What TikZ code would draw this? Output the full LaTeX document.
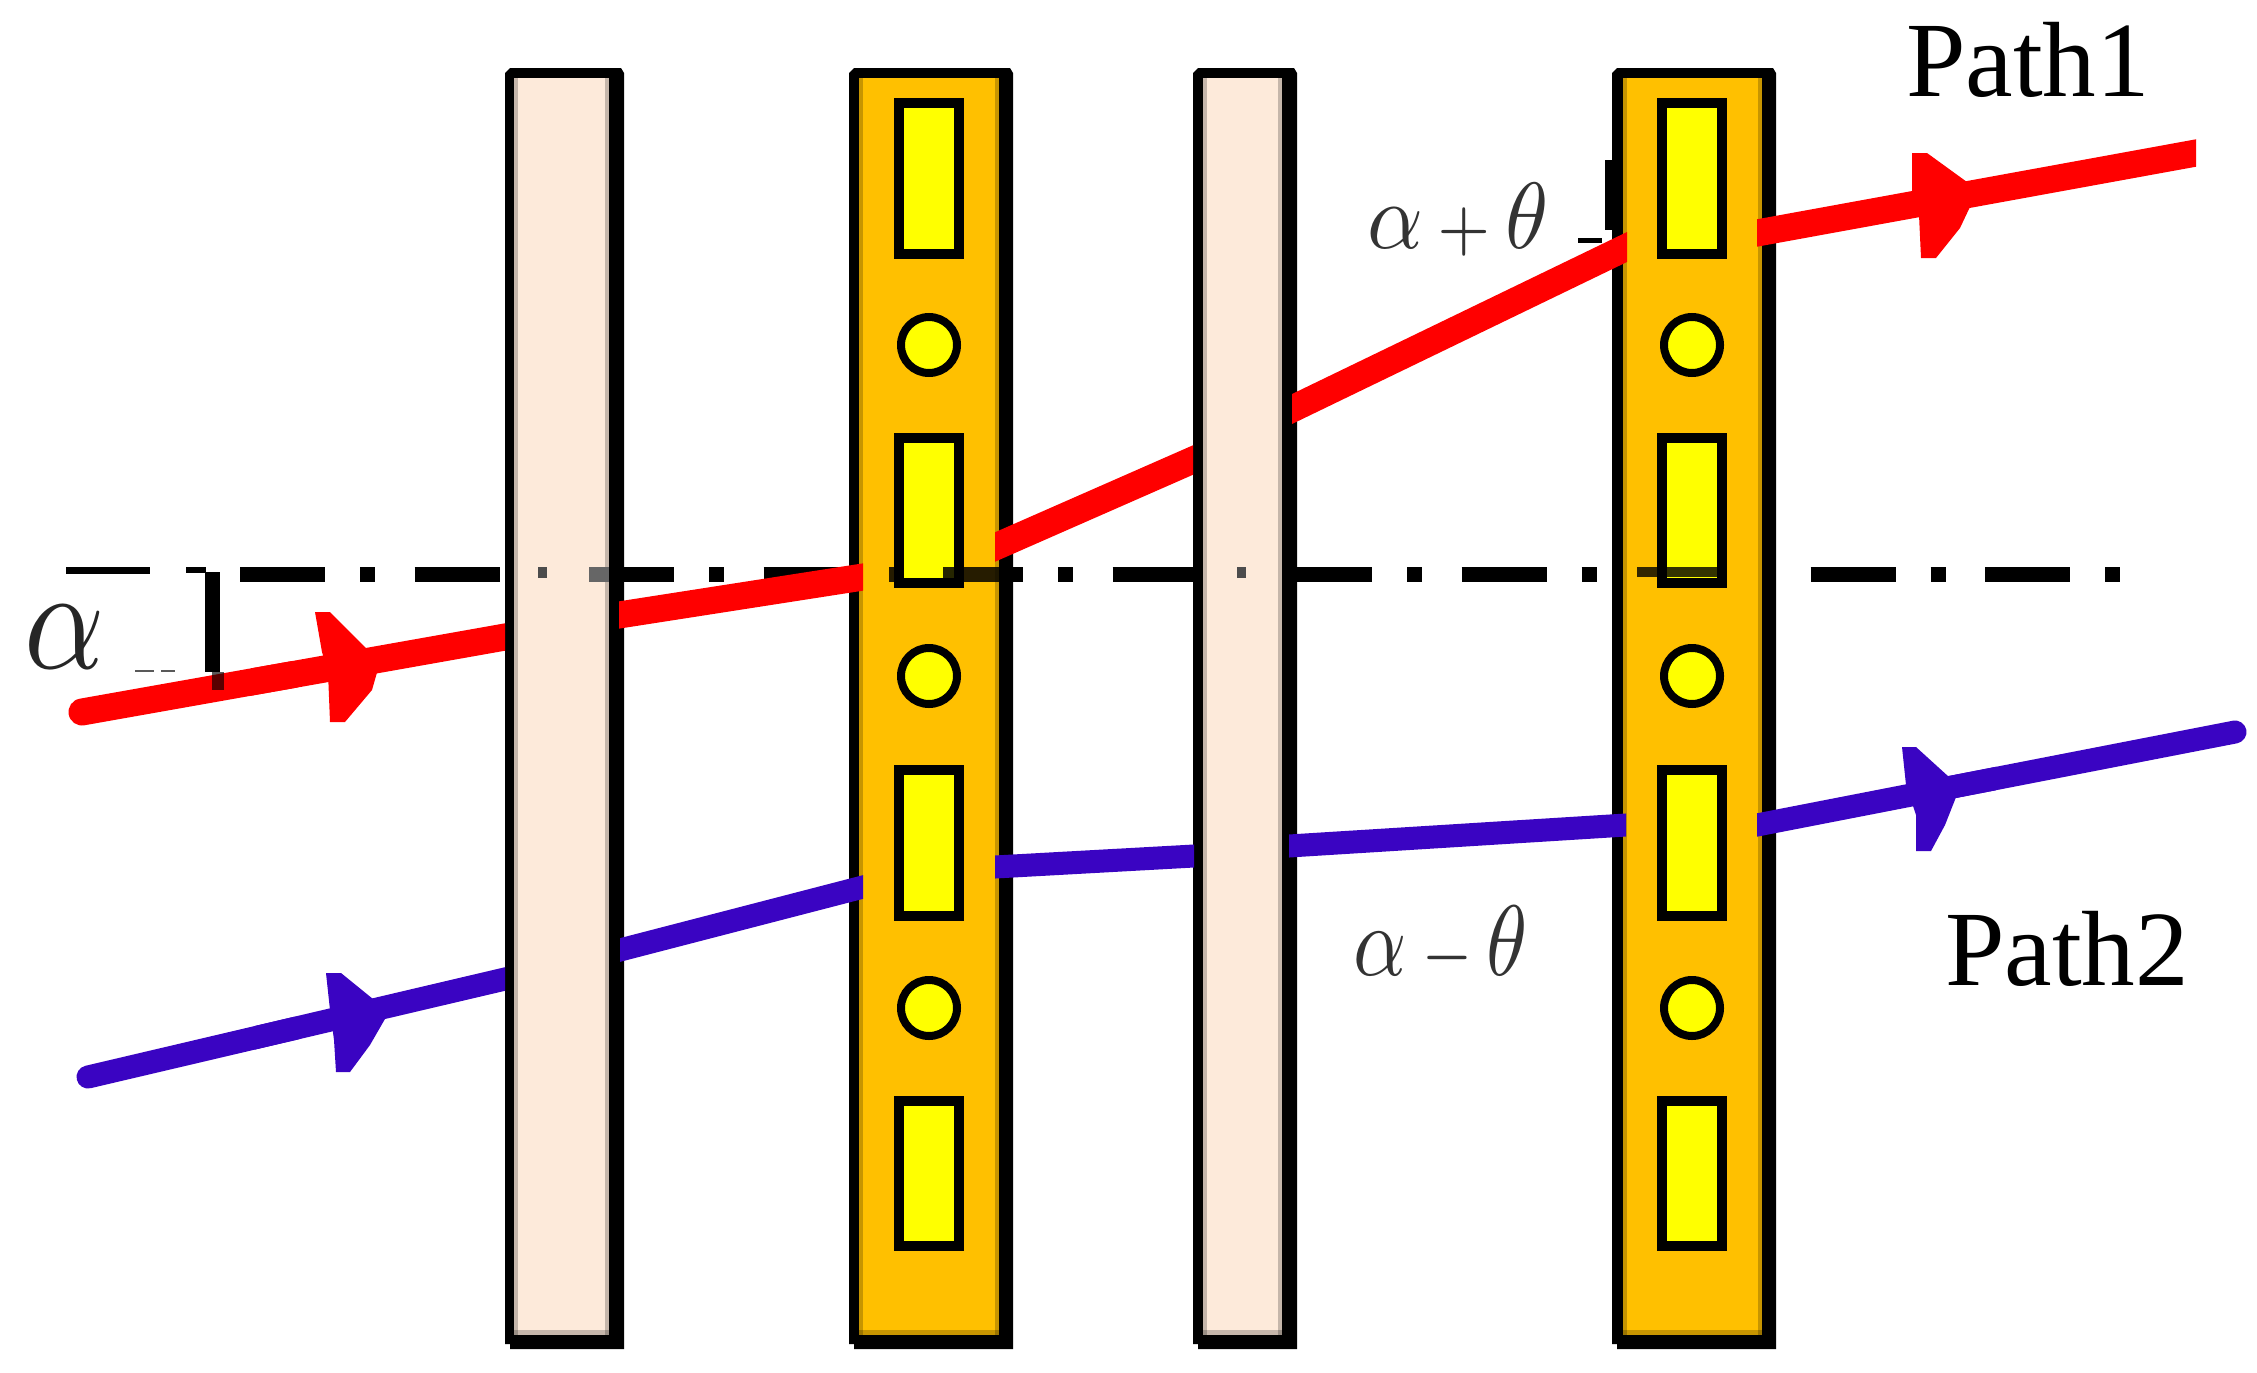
\documentclass[tikz,border=0pt]{standalone}
\usepackage{fontspec}
\usetikzlibrary{calc}
\setmainfont{Liberation Serif}
\definecolor{platepeach}{HTML}{FDEADA}
\definecolor{plategold}{HTML}{FFC000}
\definecolor{rayred}{HTML}{FF0000}
\definecolor{rayblue}{HTML}{3A04C2}
\definecolor{mathgrey}{HTML}{333333}
\definecolor{cellyellow}{HTML}{FFFF00}
\tikzset{
  plateouter/.style={fill=black},
  cellbox/.style={draw=black,line width=10pt,fill=cellyellow,miter limit=10},
  cellround/.style={draw=black,line width=8pt,fill=cellyellow},
  axisline/.style={black,line width=15pt,dash pattern=on 85pt off 35pt on 15pt off 39.5pt},
  overlaydash/.style={black,opacity=.85,line width=15pt},
  redray/.style={rayred,line width=27pt},
  blueray/.style={rayblue,line width=23pt},
  headred/.style={fill=rayred},
  headblue/.style={fill=rayblue},
  edgeshade/.style={fill=black,opacity=.22},
  pathlabel/.style={inner sep=0pt,anchor=base,font=\fontsize{107}{107}\selectfont},
  mathlabel/.style={inner sep=0pt,anchor=base,text=mathgrey},
}
\newcommand{\plateshape}[5]{%
  \path[plateouter] (#1+5,68) -- (#4-3,68) -- (#4,73) -- (#4,1349) -- (#1+5,1349) -- (#1+5,1344) -- (#1,1344) -- (#1,73) -- cycle;
  \path[fill=#5] (#2,78) rectangle (#3,1335);
  \path[edgeshade] (#2,78) rectangle (#2+4,1335);
  \path[edgeshade] (#3-4,78) rectangle (#3,1335);
  \path[edgeshade] (#2,1330) rectangle (#3,1335);
}
\newcommand{\platecells}[1]{%
  \draw[cellbox] (#1-30,103) rectangle (#1+30,254);
  \draw[cellround] (#1,345) circle (28);
  \draw[cellbox] (#1-30,438) rectangle (#1+30,583);
  \draw[cellround] (#1,676) circle (28);
  \draw[cellbox] (#1-30,770) rectangle (#1+30,916);
  \draw[cellround] (#1,1008) circle (28);
  \draw[cellbox] (#1-30,1101) rectangle (#1+30,1246);
}
% a ray segment whose two ends are cut vertically: #1 style, #2 and #3 named end points
\newcommand{\rayseg}[3]{%
  \begin{scope}
    \clip (#2 |- pagetop) rectangle (#3 |- pagebot);
    \draw[#1,line cap=rect] (#2) -- (#3);
  \end{scope}
}
\begin{document}
\begin{tikzpicture}[x=1pt,y=-1pt]
\useasboundingbox (0,0) rectangle (2257,1373);
\coordinate (pagetop) at (0,0);
\coordinate (pagebot) at (2257,1373);
% axis
\coordinate (axisL) at (240,574.5);
\coordinate (axisR) at (2122,574.5);
\coordinate (tickL) at (66,570.5);
\coordinate (tickR) at (150,570.5);
\draw[axisline] (axisL) -- (axisR);
\draw[black,line width=7pt] (tickL) -- (tickR);
\fill[black] (186,567) rectangle (206,573);
% plates
\plateshape{505}{514}{609}{624}{platepeach}
\plateshape{849}{859}{999}{1013}{plategold}
\plateshape{1193}{1203}{1282}{1297}{platepeach}
\plateshape{1612}{1623}{1762}{1776}{plategold}
\platecells{929}
\platecells{1692}
% axis traces showing through the plates
\fill[black!70] (538,567) rectangle (547,578);
\fill[black!70] (1237,567) rectangle (1246,578);
\fill[black!60] (589,567) rectangle (609,582);
\draw[overlaydash] (889,574.5) -- (903,574.5);
\draw[overlaydash] (943,574.5) -- (999,574.5);
\draw[black,opacity=.8,line width=10pt] (1637,572) -- (1725,572);
% bracket and stray marks
\coordinate (brTop) at (212.5,572);
\coordinate (brBot) at (212.5,672);
\draw[black,line width=15pt] (brTop) -- (brBot);
\fill[black] (1605,160) rectangle (1612,230);
\fill[black] (1578,238) rectangle (1602,243);
\fill[black!65] (135,670) rectangle (154,672);
\fill[black!65] (161,670) rectangle (175,672);
% red path
\coordinate (r0) at (82,712);
\coordinate (r1) at (505,637);
\coordinate (r0m) at ($(r0)!.4!(r1)$);
\coordinate (r0n) at ($(r0)!.5!(r1)$);
\coordinate (r2) at (619,615);
\coordinate (r3) at (863,577);
\coordinate (r4) at (995,547);
\coordinate (r5) at (1193,460);
\coordinate (r6) at (1292,409);
\coordinate (r7) at (1627,247);
\coordinate (r8) at (1757,233);
\coordinate (r9) at (2196,153);
\draw[redray,line cap=round] (r0) -- (r0n);
\rayseg{redray}{r0m}{r1}
\rayseg{redray}{r2}{r3}
\rayseg{redray}{r4}{r5}
\rayseg{redray}{r6}{r7}
\rayseg{redray}{r8}{r9}
\fill[headred] (315,612) -- (330,612) -- (380,662) -- (372,690) -- (345,722) -- (330,722) -- (328,672) -- (322,652) -- cycle;
\fill[headred] (1912,153) -- (1927,153) -- (1978,190) -- (1960,228) -- (1936,258) -- (1921,258) -- (1919,215) -- (1912,190) -- cycle;
% dark trace on the red ray
\draw[black,opacity=.65,line width=12pt] (brBot) ++(5,0) -- ++(0,18);
% blue path
\coordinate (b0) at (88,1077);
\coordinate (b1) at (505,979);
\coordinate (b0m) at ($(b0)!.4!(b1)$);
\coordinate (b0n) at ($(b0)!.5!(b1)$);
\coordinate (b2) at (620,950);
\coordinate (b3) at (863,887);
\coordinate (b4) at (995,867);
\coordinate (b5) at (1194,856);
\coordinate (b6) at (1289,846);
\coordinate (b7) at (1626,825);
\coordinate (b8) at (1757,825);
\coordinate (b9) at (2235,732);
\coordinate (b8m) at ($(b8)!.4!(b9)$);
\coordinate (b8n) at ($(b8)!.5!(b9)$);
\draw[blueray,line cap=round] (b0) -- (b0n);
\rayseg{blueray}{b0m}{b1}
\rayseg{blueray}{b2}{b3}
\rayseg{blueray}{b4}{b5}
\rayseg{blueray}{b6}{b7}
\rayseg{blueray}{b8}{b8n}
\draw[blueray,line cap=round] (b8m) -- (b9);
\fill[headblue] (326,973) -- (341,973) -- (389,1012) -- (370,1045) -- (350,1072) -- (336,1072) -- (334,1040) -- (330,1010) -- cycle;
\fill[headblue] (1902,747) -- (1916,747) -- (1960,787) -- (1945,825) -- (1931,851) -- (1916,851) -- (1916,815) -- (1906,785) -- cycle;
% labels
\node[pathlabel] (path1) at (2028,96) {Path1};
\node[pathlabel] (path2) at (2067,985) {Path2};
\node[mathlabel,text=black!85,xscale=12.5,yscale=14.6] (alpha) at (65,668) {$\alpha$};
\node[mathlabel,xscale=8.7,yscale=9.4] (sum) at (1458,248) {$\alpha\,{\scriptstyle+}\,\theta$};
\node[mathlabel,xscale=8.3,yscale=10] (diff) at (1441,975) {$\alpha\,{\scriptstyle-}\,\theta$};
\end{tikzpicture}
\end{document}
